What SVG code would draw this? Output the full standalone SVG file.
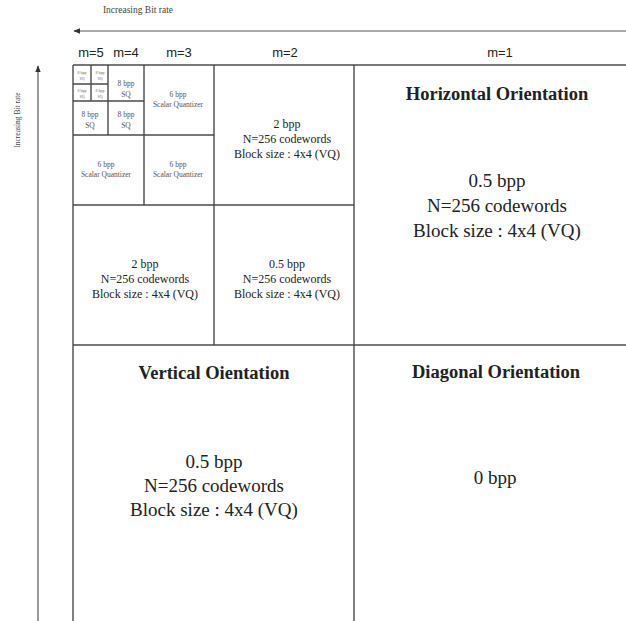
<svg xmlns="http://www.w3.org/2000/svg" width="626" height="621" viewBox="0 0 626 621">
<defs>
<style>
.ln{stroke:#4a4a4a;stroke-width:1.4;fill:none}
.ax{stroke:#555;stroke-width:1.2;fill:none}
.s{font-family:"Liberation Serif",serif;fill:#222;text-anchor:middle}
.m{font-family:"Liberation Sans",sans-serif;font-size:13px;fill:#222;text-anchor:middle}
.big{font-size:19px}
.ttl{font-size:18.5px;font-weight:bold}
.med{font-size:12px}
.sm{font-size:7.5px;fill:#555}
.tiny{font-size:4px;fill:#666}
.lbl{font-size:9.5px;fill:#444}
</style>
<marker id="ah" viewBox="0 0 10 10" refX="9" refY="5" markerWidth="7" markerHeight="7" orient="auto" markerUnits="userSpaceOnUse">
<path d="M0,1 L10,5 L0,9 Z" fill="#333"/>
</marker>
</defs>
<rect width="626" height="621" fill="#fff"/>

<g id="axes">
<text class="s lbl" x="138" y="13">Increasing Bit rate</text>
<line class="ax" x1="626" y1="31" x2="74" y2="31" marker-end="url(#ah)"/>
<text class="s lbl" style="font-size:7.5px" transform="translate(20,120) rotate(-90)">Increasing Bit rate</text>
<line class="ax" x1="38" y1="621" x2="38" y2="66" marker-end="url(#ah)"/>
</g>

<g id="m-labels">
<text class="m" x="91" y="57">m=5</text>
<text class="m" x="126" y="57">m=4</text>
<text class="m" x="179" y="57">m=3</text>
<text class="m" x="285" y="57">m=2</text>
<text class="m" x="500" y="57">m=1</text>
</g>

<g id="grid">
<line class="ln" x1="73" y1="65" x2="626" y2="65"/>
<line class="ln" x1="73" y1="65" x2="73" y2="621"/>
<line class="ln" x1="354" y1="65" x2="354" y2="621"/>
<line class="ln" x1="73" y1="345" x2="626" y2="345"/>
<line class="ln" x1="73" y1="205" x2="354" y2="205"/>
<line class="ln" x1="214" y1="65" x2="214" y2="345"/>
<line class="ln" x1="73" y1="135" x2="214" y2="135"/>
<line class="ln" x1="144" y1="65" x2="144" y2="205"/>
<line class="ln" x1="73" y1="101" x2="144" y2="101"/>
<line class="ln" x1="108" y1="65" x2="108" y2="135"/>
<line class="ln" x1="73" y1="84" x2="108" y2="84"/>
<line class="ln" x1="91" y1="65" x2="91" y2="101"/>
</g>

<g id="m5-cells">
<text class="s tiny" x="82" y="74">8 bpp</text><text class="s tiny" x="82" y="80">SQ</text>
<text class="s tiny" x="100" y="74">8 bpp</text><text class="s tiny" x="100" y="80">SQ</text>
<text class="s tiny" x="82" y="92">8 bpp</text><text class="s tiny" x="82" y="98">SQ</text>
<text class="s tiny" x="100" y="92">8 bpp</text><text class="s tiny" x="100" y="98">SQ</text>
</g>

<g id="m4-cells">
<text class="s sm" x="126" y="86">8 bpp</text><text class="s sm" x="126" y="97">SQ</text>
<text class="s sm" x="90" y="117">8 bpp</text><text class="s sm" x="90" y="128">SQ</text>
<text class="s sm" x="126" y="117">8 bpp</text><text class="s sm" x="126" y="128">SQ</text>
</g>

<g id="m3-cells">
<text class="s sm" x="178" y="97">6 bpp</text><text class="s sm" x="178" y="107">Scalar Quantizer</text>
<text class="s sm" x="106" y="167">6 bpp</text><text class="s sm" x="106" y="177">Scalar Quantizer</text>
<text class="s sm" x="178" y="167">6 bpp</text><text class="s sm" x="178" y="177">Scalar Quantizer</text>
</g>

<g id="m2-top">
<text class="s med" x="287" y="128">2 bpp</text>
<text class="s med" x="287" y="143">N=256 codewords</text>
<text class="s med" x="287" y="158">Block size : 4x4 (VQ)</text>
</g>

<g id="m2-left">
<text class="s med" x="145" y="268">2 bpp</text>
<text class="s med" x="145" y="283">N=256 codewords</text>
<text class="s med" x="145" y="298">Block size : 4x4 (VQ)</text>
</g>

<g id="m2-right">
<text class="s med" x="287" y="268">0.5 bpp</text>
<text class="s med" x="287" y="283">N=256 codewords</text>
<text class="s med" x="287" y="298">Block size : 4x4 (VQ)</text>
</g>

<g id="horizontal">
<text class="s ttl" x="497" y="100">Horizontal Orientation</text>
<text class="s big" x="497" y="187">0.5 bpp</text>
<text class="s big" x="497" y="212">N=256 codewords</text>
<text class="s big" x="497" y="237">Block size : 4x4 (VQ)</text>
</g>

<g id="vertical">
<text class="s ttl" x="214" y="379">Vertical Oientation</text>
<text class="s big" x="214" y="468">0.5 bpp</text>
<text class="s big" x="214" y="492">N=256 codewords</text>
<text class="s big" x="214" y="516">Block size : 4x4 (VQ)</text>
</g>

<g id="diagonal">
<text class="s ttl" x="496" y="378">Diagonal Orientation</text>
<text class="s big" x="495" y="484">0 bpp</text>
</g>
</svg>
